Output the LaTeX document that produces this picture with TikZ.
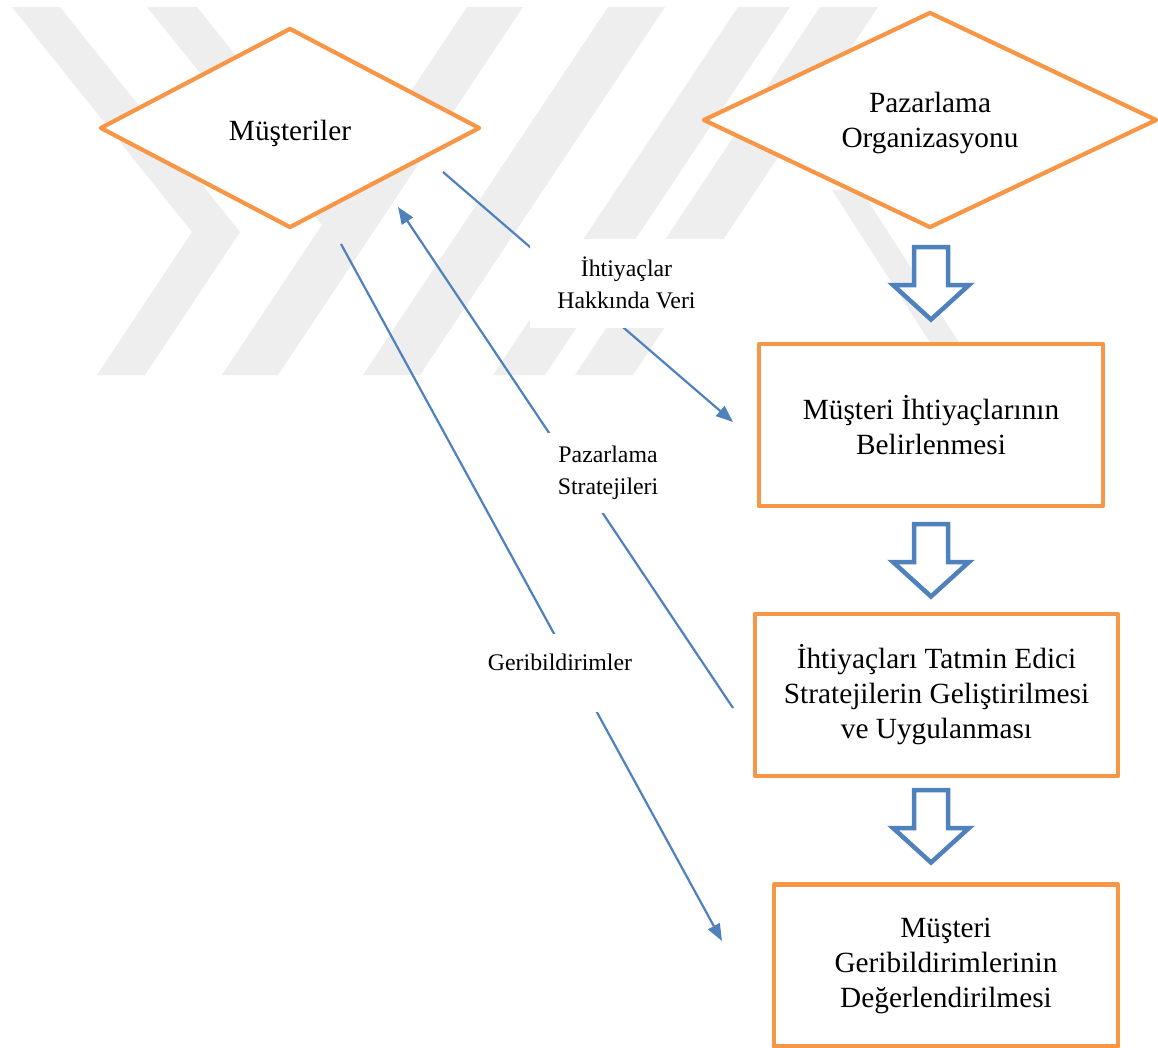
\documentclass[tikz,border=0pt]{standalone}
\usepackage{fontspec}
\setmainfont{Liberation Serif}
\usetikzlibrary{shapes.geometric,arrows.meta}
\definecolor{accentorange}{HTML}{F79646}
\definecolor{accentblue}{HTML}{4F81BD}
\definecolor{markgray}{HTML}{EEEEEE}

\begin{document}
\begin{tikzpicture}[x=1pt,y=-1pt,
  boxfont/.style={font=\fontsize{29.3}{35}\selectfont},
  decision/.style={diamond, draw=accentorange, line width=4.2pt, line join=round,
    fill=white, inner sep=0pt},
  process/.style={rectangle, draw=accentorange, line width=4.2pt, line join=round,
    fill=white, align=center, boxfont},
  flow/.style={draw=accentblue, line width=2.2pt, -{Triangle[length=17pt,width=13pt]}},
  tag/.style={fill=white, align=center, inner sep=0pt, font=\fontsize{23.8}{32}\selectfont},
  band/.style={fill=markgray, draw=none},
  blockarrow/.pic={
    \draw[accentblue, line width=4.5pt, fill=white, line join=miter]
      (-17,2) -- (17,2) -- (17,40) -- (38,40) -- (0,74.5) -- (-38,40) -- (-17,40) -- cycle;
  }
]
\useasboundingbox (0,0) rectangle (1158,1047);
\fill[white] (0,0) rectangle (1158,1047);

% faint background emblem
\fill[band] (12,7) -- (60,7) -- (240,232) -- (145,375) -- (97,375) -- (192,232) -- cycle;
\fill[band] (147,7) -- (197,7) -- (344,191) -- (322,225) -- cycle;
\fill[band] (467,7) -- (523,7) -- (278,375) -- (222,375) -- cycle;
\fill[band] (608,7) -- (665,7) -- (420,375) -- (363,375) -- cycle;
\fill[band] (738,7) -- (790,7) -- (545,375) -- (493,375) -- cycle;
\fill[band] (820,7) -- (878,7) -- (633,375) -- (575,375) -- cycle;
\fill[band] (832,190) -- (861,190) -- (980,375) -- (951,375) -- cycle;

% actors
\node[decision, minimum width=380pt, minimum height=200pt,
      label={[boxfont, yshift=-5pt]center:Müşteriler}] (customers) at (290,128) {};
\node[decision, minimum width=454pt, minimum height=216pt,
      label={[boxfont, align=center, yshift=-3pt]center:Pazarlama\\Organizasyonu}] (marketing) at (930,120) {};

% process steps
\node[process, minimum width=344pt, minimum height=162pt] (needs) at (931,425)
  {Müşteri İhtiyaçlarının\\Belirlenmesi};
\node[process, minimum width=363pt, minimum height=162pt] (strategies) at (936.5,695)
  {İhtiyaçları Tatmin Edici\\Stratejilerin Geliştirilmesi\\ve Uygulanması};
\node[process, minimum width=344pt, minimum height=162pt] (evaluation) at (946,965.5)
  {Müşteri\\Geribildirimlerinin\\Değerlendirilmesi};

% hollow block arrows between the steps
\pic at (931,245) {blockarrow};
\pic at (931,522) {blockarrow};
\pic at (931,788) {blockarrow};

% information flows
\coordinate (needsFrom) at (443,172);
\coordinate (needsTo) at (733,422);
\coordinate (stratFrom) at (733,708);
\coordinate (stratTo) at (398,207);
\coordinate (fbFrom) at (341,244);
\coordinate (fbTo) at (722,941);

\draw[flow] (needsFrom) -- (needsTo);
\draw[flow] (stratFrom) -- (stratTo);
\draw[flow] (fbFrom) -- (fbTo);

\node[tag, minimum width=193pt, minimum height=89pt] (needsTag) at (626.5,283) {İhtiyaçlar\\Hakkında Veri};
\node[tag, minimum width=140pt, minimum height=80pt] (stratTag) at (608,473) {Pazarlama\\Stratejileri};
\node[tag, text width=160pt, text height=36pt, text depth=42pt, anchor=base] (fbTag) at (560,670) {Geribildirimler};
\end{tikzpicture}
\end{document}
